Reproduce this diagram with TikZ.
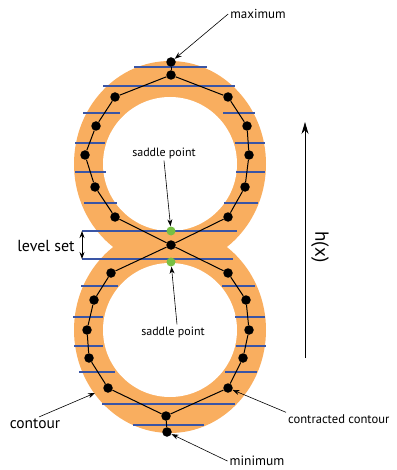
\documentclass[tikz,border=0pt]{standalone}
\usepackage{fontspec}
\setmainfont{PT Sans}
\usetikzlibrary{arrows.meta}

\definecolor{ringorange}{HTML}{F9AE5F}
\definecolor{levelblue}{HTML}{3A55A5}
\definecolor{saddlegreen}{HTML}{78C043}

\tikzset{
  levelline/.style={draw=levelblue, line width=1.3pt},
  vertex/.style={circle, fill=black, inner sep=0pt, minimum size=9.5pt},
  saddledot/.style={circle, fill=saddlegreen, inner sep=0pt, minimum size=9pt},
  chain/.style={draw=black, line width=1pt},
  pointer/.style={-{Stealth[length=7pt,width=5pt]}, line width=0.6pt},
  lbl/.style={inner sep=2pt}
}

\begin{document}
\begin{tikzpicture}[x=1pt,y=-1pt]
    % parámetros
    \def\cx{170}     % centro x
    \def\ctop{164}   % centro anillo superior
    \def\cbot{330}   % centro anillo inferior
    \def\rin{67}     % radio interior
    \def\rox{96}     % radio exterior x
    \def\roy{103}    % radio exterior y

    \useasboundingbox (0,0) rectangle (396,470);

    %—————— anillos ————————————————————————————————————————————————————
    \fill[ringorange] (\cx,\ctop) ellipse [x radius=\rox, y radius=\roy];
    \fill[ringorange] (\cx,\cbot) ellipse [x radius=\rox, y radius=\roy];
    \fill[white] (\cx,\ctop) circle [radius=\rin];
    \fill[white] (\cx,\cbot) circle [radius=\rin];

    %—————— conjuntos de nivel ———————————————————————————————————————————
    \foreach \y/\a/\b in {67/134/207, 86/103/235, 231/82/237, 259/82/233,
                          404/102/235, 425/133/204}
      \draw[levelline] (\a,\y) -- (\b,\y);
    \foreach \y/\a/\b/\c/\d in {113/83/120/223/255, 143/75/105/235/265,
                                172/75/106/236/265, 203/84/117/224/258,
                                286/81/118/222/255, 317/73/103/235/265,
                                346/74/103/236/266, 372/79/115/225/257}
    {
      \draw[levelline] (\a,\y) -- (\b,\y);
      \draw[levelline] (\c,\y) -- (\d,\y);
    }

    %—————— vértices del contorno contraído ——————————————————————————————
    \node[vertex] (max) at (171,62)  {};
    \node[vertex] (t0)  at (171,75)  {};
    \node[vertex] (tl1) at (115,97)  {};
    \node[vertex] (tl2) at (96,126)  {};
    \node[vertex] (tl3) at (85,155)  {};
    \node[vertex] (tl4) at (95,187)  {};
    \node[vertex] (tl5) at (115,217) {};
    \node[vertex] (tr1) at (228,97)  {};
    \node[vertex] (tr2) at (247,126) {};
    \node[vertex] (tr3) at (249,155) {};
    \node[vertex] (tr4) at (245,187) {};
    \node[vertex] (tr5) at (228,217) {};
    \node[vertex] (xc)  at (171,245) {};
    \node[vertex] (bl1) at (111,273) {};
    \node[vertex] (bl2) at (94,300)  {};
    \node[vertex] (bl3) at (87,330)  {};
    \node[vertex] (bl4) at (89,358)  {};
    \node[vertex] (bl5) at (108,388) {};
    \node[vertex] (br1) at (228,273) {};
    \node[vertex] (br2) at (246,300) {};
    \node[vertex] (br3) at (249,330) {};
    \node[vertex] (br4) at (243,358) {};
    \node[vertex] (br5) at (228,388) {};
    \node[vertex] (b0)  at (166,416) {};
    \node[vertex] (min) at (167,432) {};
    % puntos silla
    \node[saddledot] (s1) at (171,231) {};
    \node[saddledot] (s2) at (171,262) {};

    % aristas
    \draw[chain] (max) -- (t0);
    \draw[chain] (tl1) -- (t0) -- (tr1);
    \draw[chain] (tl1) -- (tl2) -- (tl3) -- (tl4) -- (tl5) -- (xc) -- (br1);
    \draw[chain] (tr1) -- (tr2) -- (tr3) -- (tr4) -- (tr5) -- (xc) -- (bl1);
    \draw[chain] (bl1) -- (bl2) -- (bl3) -- (bl4) -- (bl5) -- (b0);
    \draw[chain] (br1) -- (br2) -- (br3) -- (br4) -- (br5) -- (b0);
    \draw[chain] (b0) -- (min);

    %—————— etiquetas ——————————————————————————————————————————————————
    \node[lbl, font=\fontsize{13}{14}\selectfont] (lmax) at (258,14) {maximum};
    \draw[pointer] (lmax.west) -- (max);
    \node[lbl, font=\fontsize{12}{14}\selectfont] (lsad1) at (164,153) {saddle point};
    \draw[pointer] (lsad1.south) -- (s1);
    \node[lbl, font=\fontsize{12}{14}\selectfont] (lsad2) at (173,332) {saddle point};
    \draw[pointer] ([xshift=4pt]lsad2.north) -- (s2);
    \node[lbl, font=\fontsize{13.5}{14}\selectfont] (lmin) at (257,461) {minimum};
    \draw[pointer] (lmin.west) -- (min);

    \node[lbl, font=\fontsize{16}{18}\selectfont] (llev) at (46,246) {level set};
    \coordinate (lv1) at (82,231);
    \coordinate (lv2) at (82,259);
    \draw[{Stealth[length=7pt,width=5pt]}-{Stealth[length=7pt,width=5pt]}, line width=0.8pt] (lv1) -- (lv2);

    \node[lbl, font=\fontsize{15.5}{18}\selectfont] (lcon) at (35,424) {contour};
    \coordinate (cring) at (95,393);
    \draw[pointer] (lcon.60) -- (cring);
    \node[lbl, font=\fontsize{12.6}{16}\selectfont, anchor=west] (lcc) at (286,419) {contracted contour};
    \draw[pointer] (lcc.north west) -- (br5);

    %—————— eje h(x) ————————————————————————————————————————————————————
    \coordinate (hlo) at (305,358);
    \coordinate (hhi) at (305,122);
    \draw[-{Stealth[length=12pt,width=7pt]}, line width=0.8pt] (hlo) -- (hhi);
    \node[font=\fontsize{19}{22}\selectfont, rotate=-90] (lh) at (320,247) {h(x)};
\end{tikzpicture}
\end{document}
